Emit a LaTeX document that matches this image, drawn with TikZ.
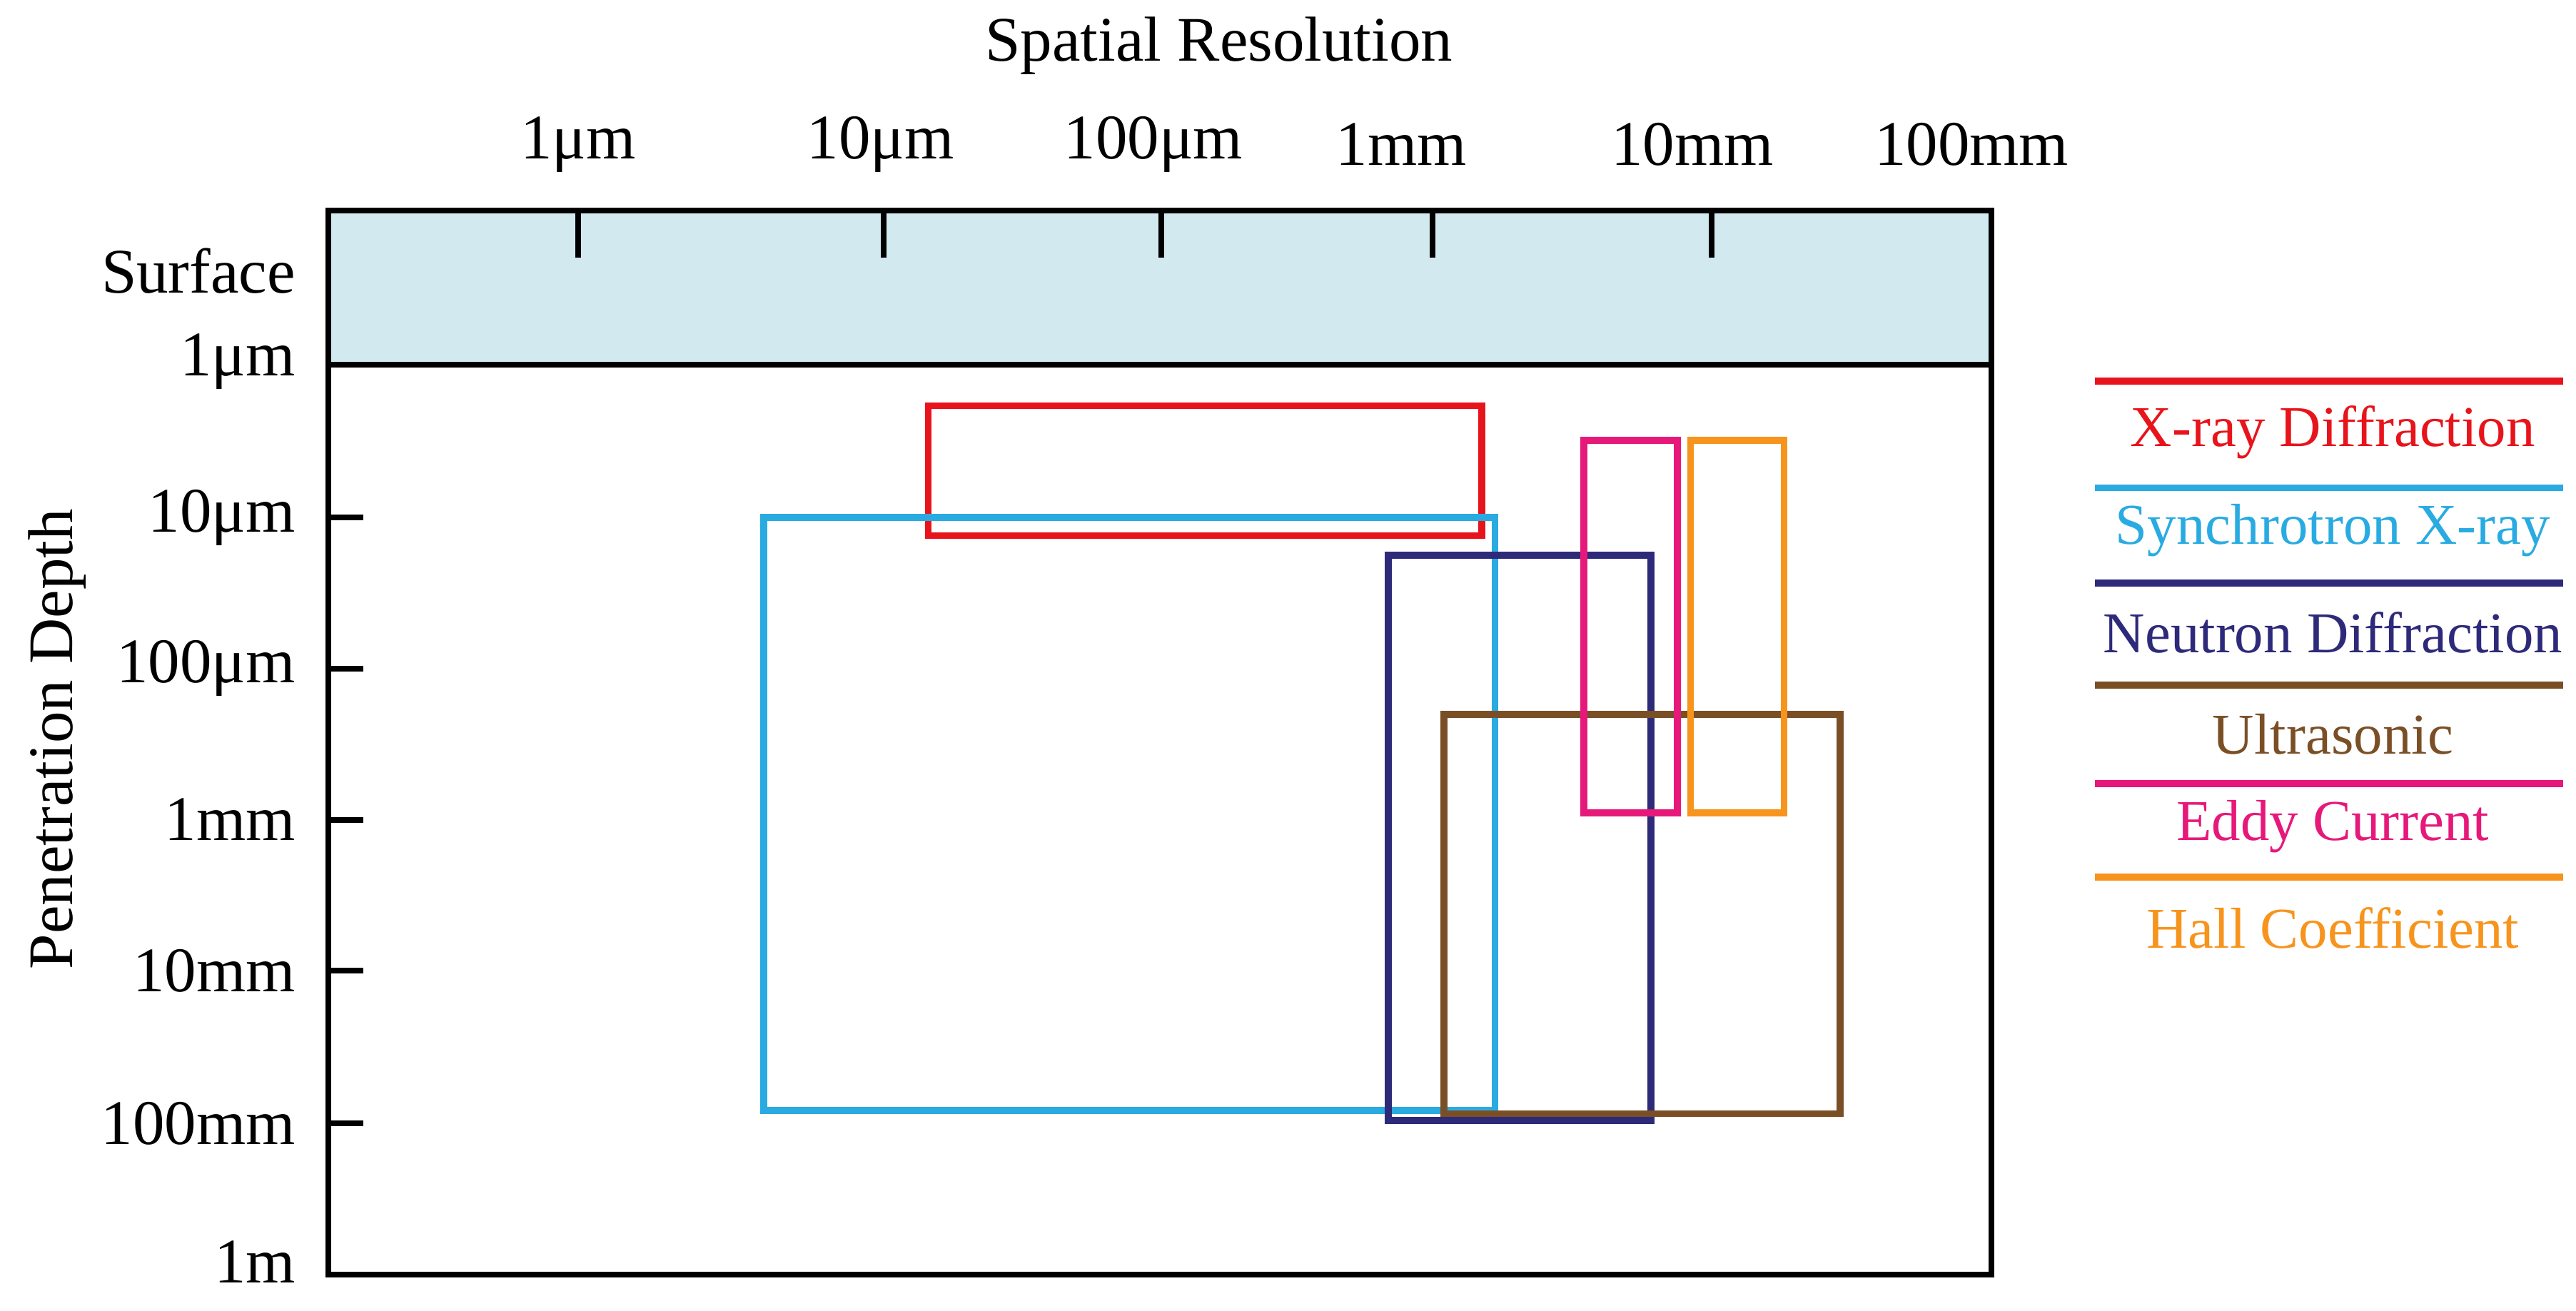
\documentclass[tikz,border=0pt]{standalone}
\usepackage{fontspec}
\setmainfont{Liberation Serif}
\definecolor{surf}{HTML}{D3E9F0}
\definecolor{cxrd}{HTML}{E8141C}
\definecolor{csyn}{HTML}{29ABE2}
\definecolor{cneu}{HTML}{2E2A7A}
\definecolor{cult}{HTML}{7B4F26}
\definecolor{cedd}{HTML}{E6197A}
\definecolor{chal}{HTML}{F7941D}
\begin{document}
\begin{tikzpicture}[x=0.03cm,y=-0.03cm,
  lbl/.style={font=\fontsize{33}{38}\selectfont,inner sep=0pt},
  llbl/.style={font=\fontsize{30}{36}\selectfont,inner sep=0pt},
  meth/.style={line width=3.6pt},
  leg/.style={line width=3.6pt}]
\useasboundingbox (0,0) rectangle (1568,798);
\fill[surf] (200,128) rectangle (1212,222);
\draw[line width=3pt] (200,128) rectangle (1212,776);
\draw[line width=3pt] (200,222) -- (1212,222);
\foreach \x in {352,538,707,872,1042} \draw[line width=3pt] (\x,128) -- (\x,157);
\foreach \y in {315,407,499,591,684} \draw[line width=3pt] (200,\y) -- (221,\y);
\node[lbl] (title) at (742,28) {Spatial Resolution};
\node[lbl] (t1) at (352,88) {1μm};
\node[lbl] (t2) at (536,88) {10μm};
\node[lbl] (t3) at (702,88) {100μm};
\node[lbl] (t4) at (853,88) {1mm};
\node[lbl] (t5) at (1030,88) {10mm};
\node[lbl] (t6) at (1200,88) {100mm};
\foreach \t/\y/\n in {Surface/165/s0,1μm/220/s1,10μm/315/s2,100μm/407/s3,1mm/499/s4,10mm/591/s5,100mm/684/s6,1m/768/s7}
  \node[lbl,anchor=east] (\n) at (180,\y) {\t};
\node[lbl,rotate=90] (pd) at (35,450) {Penetration Depth};
\draw[meth,cxrd] (565,247) rectangle (902,326);
\draw[meth,csyn] (465,315) rectangle (910,676);
\draw[meth,cneu] (845,338) rectangle (1005,682);
\draw[meth,cult] (879,435) rectangle (1120,678);
\draw[meth,cedd] (964,268) rectangle (1021,495);
\draw[meth,chal] (1029,268) rectangle (1086,495);
\foreach \y/\c/\t/\ty/\n in {232/cxrd/X-ray Diffraction/263/l1,297/csyn/Synchrotron X-ray/323/l2,355/cneu/Neutron Diffraction/385/l3,417/cult/Ultrasonic/447/l4,477/cedd/Eddy Current/503/l5,534/chal/Hall Coefficient/565/l6}{
  \draw[leg,\c] (1275,\y) -- (1560,\y);
  \node[llbl,text=\c] (\n) at (1420,\ty) {\t};
}
\end{tikzpicture}
\end{document}
